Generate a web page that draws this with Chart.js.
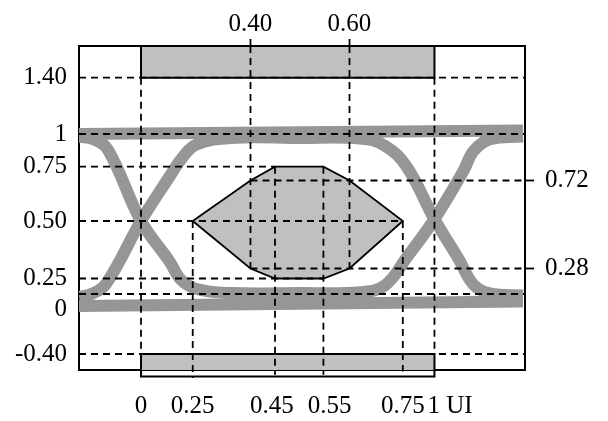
<!DOCTYPE html>
<html>
<head>
<meta charset="utf-8">
<title>Eye mask</title>
<script src="https://cdn.jsdelivr.net/npm/chart.js@4/dist/chart.umd.min.js"></script>
<style>
  html, body { margin: 0; padding: 0; background: #fff; }
  canvas { display: block; }
</style>
</head>
<body>
<canvas id="eye" width="608" height="421"></canvas>
<script>
// values printed on the figure
const uiTicks = [0, 0.25, 0.45, 0.55, 0.75, 1];
const uiTickLabels = ["0", "0.25", "0.45", "0.55", "0.75", "1 UI"];
const uiTopTicks = [0.40, 0.60];
const levelTicks = [-0.40, 0, 0.25, 0.50, 0.75, 1, 1.40];
const levelTickLabels = ["-0.40", "0", "0.25", "0.50", "0.75", "1", "1.40"];
const levelRightTicks = [0.28, 0.72];

// ends of the box
const uiMin = -0.30, uiMax = 1.44;
const levelMin = -0.50, levelMax = 1.62;

// eye mask (hexagon-ish)
const maskUI =    [0.25, 0.40, 0.45, 0.55, 0.60, 0.75, 0.60, 0.55, 0.45, 0.40, 0.25];
const maskLevel = [0.50, 0.72, 0.75, 0.75, 0.72, 0.50, 0.28, 0.25, 0.25, 0.28, 0.50];

// keep-out bands over and under the eye
const bandUI = [0, 1, 1, 0, 0];
const upperBandLevel = [1.40, 1.40, 1.62, 1.62, 1.40];
const lowerBandLevel = [-0.40, -0.40, -0.54, -0.54, -0.40];

// signal traces
const railUI = [-0.30, 1.43];
const highRail = [1.00, 1.025];
const lowRail = [-0.08, -0.05];
const riseFallUI =    [-0.30, -0.24, -0.17, 0.00, 0.14, 0.20, 0.26, 0.35, 0.50, 0.63, 0.70, 0.78, 1.00, 1.12, 1.19, 1.27, 1.43];
const riseFallLevel = [-0.02, 0.00, 0.16, 0.50, 0.73, 0.82, 0.92, 0.97, 0.97, 0.965, 0.91, 0.75, 0.51, 0.32, 0.15, 0.01, -0.01];
const fallRiseUI =    [-0.30, -0.23, -0.16, 0.00, 0.14, 0.19, 0.26, 0.35, 0.50, 0.63, 0.70, 0.78, 1.00, 1.14, 1.19, 1.27, 1.43];
const fallRiseLevel = [0.98, 0.96, 0.88, 0.50, 0.31, 0.24, 0.08, 0.015, 0.015, 0.03, 0.14, 0.33, 0.51, 0.74, 0.87, 0.96, 0.98];

// dashed guide lines, [from, to] as [ui, level]
const guides = [
  [[uiMin, 1.40], [uiMax, 1.40]],
  [[uiMin, 1], [uiMax, 1]],
  [[uiMin, 0.75], [0.45, 0.75]],
  [[0.40, 0.72], [uiMax, 0.72]],
  [[uiMin, 0.50], [0.75, 0.50]],
  [[0.40, 0.28], [uiMax, 0.28]],
  [[uiMin, 0.25], [0.55, 0.25]],
  [[uiMin, 0], [uiMax, 0]],
  [[uiMin, -0.40], [uiMax, -0.40]],
  [[0, 1.40], [0, -0.40]],
  [[1, 1.40], [1, -0.40]],
  [[0.40, levelMax], [0.40, 0.28]],
  [[0.60, levelMax], [0.60, 0.28]],
  [[0.45, 0.75], [0.45, -0.53]],
  [[0.55, 0.75], [0.55, -0.53]],
  [[0.25, 0.50], [0.25, -0.55]],
  [[0.75, 0.50], [0.75, -0.51]]
];

// the drawing is not to scale: where each value sits along its axis (0..1 of the box)
const uiKnots = [[-0.30, 0], [0, 0.139], [0.25, 0.255], [0.40, 0.3845], [0.45, 0.4395],
  [0.55, 0.548], [0.60, 0.6065], [0.75, 0.726], [1, 0.797], [1.44, 1]];
const levelKnots = [[-0.50, 0], [-0.40, 0.0494], [0, 0.2346], [0.25, 0.2824], [0.28, 0.3133],
  [0.50, 0.4599], [0.72, 0.5849], [0.75, 0.6275], [1, 0.7284], [1.40, 0.9022], [1.62, 1]];

function mapKnots(knots, v, from, to) {
  let i = 1;
  while (i < knots.length - 1 && v > knots[i][from]) i++;
  const a = knots[i - 1], b = knots[i];
  return a[to] + (v - a[from]) * (b[to] - a[to]) / (b[from] - a[from]);
}

const Linear = Chart.LinearScale || Chart.registry.getScale("linear");
class KnotScale extends Linear {
  knots() { return this.isHorizontal() ? uiKnots : levelKnots; }
  getPixelForValue(value) {
    if (value === null || value === undefined || isNaN(value)) return NaN;
    return this.getPixelForDecimal(mapKnots(this.knots(), value, 0, 1));
  }
  getValueForPixel(pixel) {
    return mapKnots(this.knots(), this.getDecimalForPixel(pixel), 1, 0);
  }
}
KnotScale.id = "knots";
KnotScale.defaults = Linear.defaults;
Chart.register(KnotScale);

const pts = (xs, ys) => xs.map((x, i) => ({ x: x, y: ys[i] }));
const labelFont = { family: "'Liberation Serif', 'Times New Roman', serif", size: 25 };
const setSize = (prop, size) => axis => { axis[prop] = size; };
const useTicks = values => axis => { axis.ticks = values.map(v => ({ value: v })); };
const boxEdge = { display: true, color: "#000", width: 2 };

const traceGray = "#969696";
const fillGray = "#c0c0c0";

const datasets = [];
guides.forEach(g => {
  datasets.push({
    data: g.map(p => ({ x: p[0], y: p[1] })),
    borderColor: "#000", borderWidth: 1.8, borderDash: [7, 5],
    pointRadius: 0, fill: false, clip: false, order: 0
  });
});
datasets.push({
  data: pts(maskUI, maskLevel),
  borderColor: "#000", borderWidth: 1.8, backgroundColor: fillGray,
  fill: "shape", pointRadius: 0, order: 1
});
[[railUI, highRail], [railUI, lowRail], [riseFallUI, riseFallLevel], [fallRiseUI, fallRiseLevel]].forEach(t => {
  datasets.push({
    data: pts(t[0], t[1]),
    borderColor: traceGray, borderWidth: 12, borderJoinStyle: "round",
    tension: 0.4, pointRadius: 0, fill: false, order: 2
  });
});
[upperBandLevel, lowerBandLevel].forEach(b => {
  datasets.push({
    data: pts(bandUI, b),
    borderColor: "#000", borderWidth: 2, backgroundColor: fillGray,
    fill: "shape", pointRadius: 0, clip: false, order: 3
  });
});

Chart.defaults.font.family = labelFont.family;
Chart.defaults.color = "#000";

new Chart(document.getElementById("eye"), {
  type: "line",
  data: { datasets: datasets },
  options: {
    responsive: false,
    animation: false,
    events: [],
    layout: { padding: 0 },
    plugins: { legend: { display: false }, tooltip: { enabled: false } },
    scales: {
      x: {
        type: "knots", position: "bottom", min: uiMin, max: uiMax,
        afterFit: setSize("height", 51),
        afterBuildTicks: useTicks(uiTicks),
        grid: { display: true, drawOnChartArea: false, drawTicks: false },
        border: boxEdge,
        ticks: {
          autoSkip: false, maxRotation: 0, padding: 21, font: labelFont, color: "#000",
          callback: v => {
            const s = uiTickLabels[uiTicks.indexOf(v)];
            if (v === 1) return "\u00a0\u00a0\u00a0\u00a0\u00a0" + s;
            if (v === 0.45) return s + "\u00a0";
            if (v === 0.55) return "\u00a0\u00a0" + s;
            return s;
          }
        }
      },
      x2: {
        type: "knots", axis: "x", position: "top", min: uiMin, max: uiMax,
        afterFit: setSize("height", 46),
        afterBuildTicks: useTicks(uiTopTicks),
        grid: { display: true, drawOnChartArea: false, drawTicks: true, tickLength: 7, tickColor: "#000", tickWidth: 1.8 },
        border: boxEdge,
        ticks: { autoSkip: false, maxRotation: 0, padding: 0, font: labelFont, color: "#000",
          callback: v => v.toFixed(2) }
      },
      y: {
        type: "knots", position: "left", min: levelMin, max: levelMax,
        afterFit: setSize("width", 79),
        afterBuildTicks: useTicks(levelTicks),
        grid: { display: true, drawOnChartArea: false, drawTicks: false },
        border: boxEdge,
        ticks: {
          autoSkip: false, padding: 12, font: labelFont, color: "#000",
          callback: v => {
            const s = levelTickLabels[levelTicks.indexOf(v)];
            return v === 0 ? ["", s] : s;
          }
        }
      },
      y2: {
        type: "knots", axis: "y", position: "right", min: levelMin, max: levelMax,
        afterFit: setSize("width", 83),
        afterBuildTicks: useTicks(levelRightTicks),
        grid: { display: true, drawOnChartArea: false, drawTicks: true, tickLength: 9, tickColor: "#000", tickWidth: 1.8 },
        border: boxEdge,
        ticks: { autoSkip: false, padding: 11, font: labelFont, color: "#000",
          callback: v => v.toFixed(2) }
      }
    }
  }
});
</script>
</body>
</html>
